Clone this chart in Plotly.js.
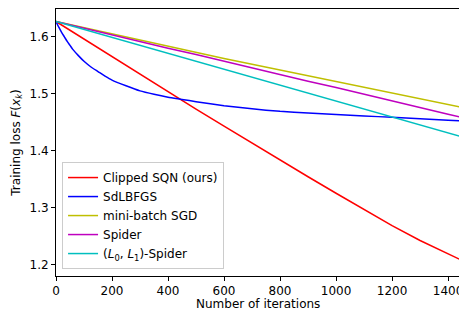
<!DOCTYPE html>
<html>
<head>
<meta charset="utf-8">
<script src="https://cdn.plot.ly/plotly-3.0.1.min.js"></script>
<style>
  html, body { margin: 0; padding: 0; background: #fff; }
  #chart { width: 459px; height: 310px; }
</style>
</head>
<body>
<div id="chart"></div>
<script>
// Iteration grids
const itersLinear = [0, 100, 200, 300, 400, 500, 600, 700, 800, 900, 1000, 1100, 1200, 1300, 1400, 1500];
const itersBlue = [0, 10, 20, 30, 40, 50, 60, 80, 100, 125, 150, 175, 200, 250, 300, 350, 400, 450, 500, 600, 700, 800, 900, 1000, 1100, 1200, 1300, 1400, 1500];

// Series values
const clippedSQN = [1.627, 1.596, 1.565, 1.534, 1.503, 1.473, 1.443, 1.413, 1.383, 1.354, 1.325, 1.296, 1.268, 1.242, 1.218, 1.195];
const sdLBFGS = [1.627, 1.617, 1.608, 1.600, 1.592, 1.585, 1.578, 1.567, 1.557, 1.547, 1.539, 1.531, 1.524, 1.514, 1.505, 1.499, 1.494, 1.490, 1.486, 1.479, 1.4735, 1.469, 1.466, 1.4635, 1.461, 1.4585, 1.456, 1.4535, 1.451];
const miniBatchSGD = [1.627, 1.616, 1.605, 1.594, 1.583, 1.572, 1.562, 1.552, 1.542, 1.532, 1.522, 1.511, 1.501, 1.491, 1.481, 1.471];
const spider = [1.627, 1.615, 1.604, 1.592, 1.580, 1.569, 1.557, 1.546, 1.534, 1.522, 1.511, 1.499, 1.488, 1.476, 1.464, 1.453];
const l0l1Spider = [1.627, 1.613, 1.599, 1.585, 1.571, 1.557, 1.543, 1.529, 1.515, 1.501, 1.487, 1.473, 1.459, 1.445, 1.431, 1.417];

const names = ['Clipped SQN (ours)', 'SdLBFGS', 'mini-batch SGD', 'Spider', '(<i>L</i><sub>0</sub>, <i>L</i><sub>1</sub>)-Spider'];
const colors = ['#ff0000', '#0000ff', '#bfbf00', '#bf00bf', '#00bfbf'];

const xTicks = [0, 200, 400, 600, 800, 1000, 1200, 1400];
const yTicks = [1.2, 1.3, 1.4, 1.5, 1.6];
const xTitle = 'Number of iterations';
const yTitle = 'Training loss <i>F</i>(<i>x</i><sub><i>k</i></sub>)';

const xs = [itersLinear, itersBlue, itersLinear, itersLinear, itersLinear];
const ys = [clippedSQN, sdLBFGS, miniBatchSGD, spider, l0l1Spider];

const font = { family: 'DejaVu Sans, sans-serif', size: 12, color: '#000' };

const traces = ys.map((y, i) => ({
  x: xs[i], y: y, type: 'scatter', mode: 'lines', name: names[i],
  line: i === 1 ? { color: colors[i], width: 1.5, shape: 'spline', smoothing: 0.6 }
                : { color: colors[i], width: 1.5 }
}));

const layout = {
  width: 459, height: 310,
  margin: { l: 56, r: 0, t: 9, b: 34 },
  paper_bgcolor: '#fff', plot_bgcolor: '#fff',
  font: font,
  showlegend: true,
  legend: {
    x: 0.015, y: 0.026, xanchor: 'left', yanchor: 'bottom',
    bgcolor: 'rgba(255,255,255,0.8)', bordercolor: '#cccccc', borderwidth: 1,
    font: font, itemwidth: 30, tracegroupgap: 0
  },
  xaxis: {
    range: [0, 1439], tickvals: xTicks, ticktext: xTicks.map(String),
    showgrid: false, zeroline: false, showline: true, linecolor: '#000', linewidth: 1,
    mirror: true, ticks: 'outside', ticklen: 4, tickcolor: '#000', tickwidth: 1,
    tickfont: font, ticklabeloverflow: 'allow'
  },
  yaxis: {
    range: [1.1795, 1.649], tickvals: yTicks, ticktext: yTicks.map(v => v.toFixed(1)),
    showgrid: false, zeroline: false, showline: true, linecolor: '#000', linewidth: 1,
    ticks: 'outside', ticklen: 4, tickcolor: '#000', tickwidth: 1,
    tickfont: font,
    title: { text: yTitle, font: font, standoff: 6 }
  },
  annotations: [{
    text: xTitle, xref: 'paper', yref: 'paper', x: 0.5, y: 0,
    xanchor: 'center', yanchor: 'top', yshift: -19, showarrow: false, font: font
  }]
};

Plotly.newPlot('chart', traces, layout, { staticPlot: true, displayModeBar: false });
</script>
</body>
</html>
